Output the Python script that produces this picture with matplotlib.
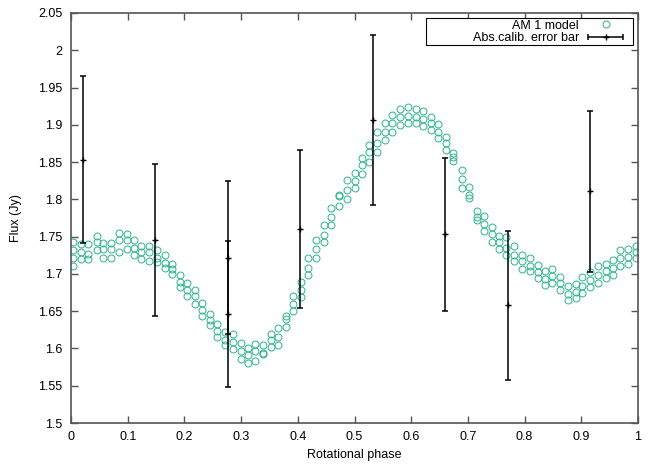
import numpy as np
import matplotlib
matplotlib.use("Agg")
import matplotlib.pyplot as plt
from matplotlib.patches import Rectangle
from matplotlib.legend_handler import HandlerErrorbar
from matplotlib.ticker import FuncFormatter, MultipleLocator

plt.rcParams['font.family'] = ['Liberation Sans', 'DejaVu Sans']
plt.rcParams['font.size'] = 9

# model: phase of each column and the flux values read in that column
model_phase = [0.004, 0.017, 0.030, 0.045, 0.056, 0.070, 0.084, 0.098, 0.111, 0.124,
               0.138, 0.151, 0.165, 0.178, 0.192, 0.205, 0.218, 0.231, 0.245, 0.258,
               0.271, 0.285, 0.299, 0.312, 0.325, 0.339, 0.352, 0.365, 0.379, 0.392,
               0.405, 0.418, 0.432, 0.446, 0.459, 0.473, 0.486, 0.500, 0.513, 0.526,
               0.540, 0.554, 0.567, 0.580, 0.595, 0.608, 0.621, 0.635, 0.648, 0.661,
               0.674, 0.689, 0.702, 0.716, 0.728, 0.742, 0.755, 0.768, 0.782, 0.796,
               0.810, 0.823, 0.836, 0.849, 0.862, 0.877, 0.890, 0.902, 0.915, 0.930,
               0.943, 0.956, 0.969, 0.983, 0.996]
model_flux = [
    [1.711, 1.722, 1.732, 1.743], [1.720, 1.730, 1.740], [1.720, 1.727, 1.740],
    [1.732, 1.743, 1.751], [1.722, 1.733, 1.742], [1.722, 1.733, 1.742],
    [1.730, 1.745, 1.755], [1.734, 1.745, 1.754], [1.725, 1.735, 1.745],
    [1.720, 1.730, 1.738], [1.717, 1.730, 1.738], [1.716, 1.722, 1.732],
    [1.708, 1.714, 1.725], [1.700, 1.707, 1.713], [1.682, 1.689, 1.698],
    [1.670, 1.679, 1.688], [1.660, 1.670, 1.678], [1.643, 1.651, 1.661],
    [1.631, 1.638, 1.646], [1.615, 1.624, 1.633], [1.604, 1.612, 1.622],
    [1.599, 1.609, 1.619], [1.586, 1.596, 1.607], [1.580, 1.591, 1.601],
    [1.583, 1.596, 1.606], [1.592, 1.594, 1.604], [1.602, 1.612, 1.620],
    [1.605, 1.615, 1.628], [1.629, 1.639, 1.643], [1.650, 1.660, 1.670],
    [1.669, 1.678, 1.689], [1.698, 1.708, 1.722], [1.722, 1.733, 1.745],
    [1.743, 1.752, 1.765], [1.765, 1.777, 1.788], [1.791, 1.804, 1.806],
    [1.801, 1.813, 1.826], [1.815, 1.824, 1.836], [1.834, 1.846, 1.855],
    [1.850, 1.864, 1.873], [1.864, 1.876, 1.890], [1.880, 1.891, 1.902],
    [1.891, 1.903, 1.913], [1.900, 1.911, 1.921], [1.902, 1.912, 1.924],
    [1.902, 1.911, 1.921], [1.899, 1.908, 1.918], [1.893, 1.903, 1.911],
    [1.882, 1.891, 1.901], [1.866, 1.875, 1.884], [1.851, 1.857, 1.862],
    [1.815, 1.827, 1.840], [1.802, 1.806, 1.816], [1.772, 1.777, 1.784],
    [1.757, 1.767, 1.778], [1.743, 1.754, 1.763], [1.734, 1.743, 1.751],
    [1.726, 1.735, 1.749], [1.717, 1.726, 1.737], [1.707, 1.717, 1.726],
    [1.704, 1.711, 1.721], [1.695, 1.703, 1.712], [1.685, 1.693, 1.704],
    [1.688, 1.697, 1.707], [1.678, 1.688, 1.696], [1.665, 1.673, 1.684],
    [1.668, 1.676, 1.687], [1.674, 1.684, 1.696], [1.682, 1.692, 1.702],
    [1.688, 1.699, 1.710], [1.694, 1.704, 1.713], [1.699, 1.708, 1.719],
    [1.711, 1.722, 1.732], [1.713, 1.723, 1.734], [1.722, 1.730, 1.738]]

# absolute calibration error bars
err_phase = [0.021, 0.149, 0.277, 0.277, 0.404, 0.532, 0.660, 0.770, 0.915]
err_flux = [1.853, 1.745, 1.722, 1.646, 1.760, 1.907, 1.753, 1.658, 1.811]
err_size = [0.112, 0.102, 0.103, 0.098, 0.106, 0.114, 0.103, 0.100, 0.108]

xs = np.concatenate([[p] * len(f) for p, f in zip(model_phase, model_flux)])
ys = np.concatenate(model_flux)

fig = plt.figure(figsize=(6.64, 4.65), dpi=100)
ax = fig.add_axes([71 / 664, 1 - 423 / 465, 567 / 664, 410 / 465])

ax.plot(xs, ys, 'o', mfc='none', mec='#2bb38a', ms=5, mew=0.7, label='AM 1 model')
ax.errorbar(err_phase, err_flux, yerr=err_size, fmt='+', color='black', ms=5,
            elinewidth=1.1, capsize=2.5, capthick=1.1, label='_nolegend_')
# legend sample drawn horizontally like gnuplot
key_eb = ax.errorbar([np.nan], [np.nan], xerr=[0.1], fmt='+', color='black', ms=5,
                     elinewidth=1.1, capsize=2.5, capthick=1.1,
                     label='Abs.calib. error bar')

ax.set_xlim(0, 1)
ax.set_ylim(1.5, 2.05)
ax.xaxis.set_major_locator(MultipleLocator(0.1))
ax.yaxis.set_major_locator(MultipleLocator(0.05))
fmt = FuncFormatter(lambda v, pos: '%g' % round(v, 3))
ax.xaxis.set_major_formatter(fmt)
ax.yaxis.set_major_formatter(fmt)
ax.tick_params(direction='in', length=5, width=1, color='#555555',
               top=True, right=True, pad=6)
for s in ax.spines.values():
    s.set_color('#555555')
    s.set_linewidth(1.2)

ax.set_xlabel('Rotational phase')
ax.set_ylabel('Flux (Jy)', labelpad=12)

# key box like gnuplot's
ax.add_patch(Rectangle((0.626, 0.922), 0.365, 0.066, transform=ax.transAxes,
                       facecolor='white', edgecolor='black', lw=0.8, zorder=4))
leg = ax.legend(loc='upper right', bbox_to_anchor=(0.975, 0.984), markerfirst=False,
                frameon=False, borderpad=0, labelspacing=0.05, handlelength=2.9,
                handletextpad=0.7, borderaxespad=0,
                handler_map={key_eb: HandlerErrorbar(xerr_size=1.4)})
leg.set_zorder(5)

fig.savefig('out.png', dpi=100)
